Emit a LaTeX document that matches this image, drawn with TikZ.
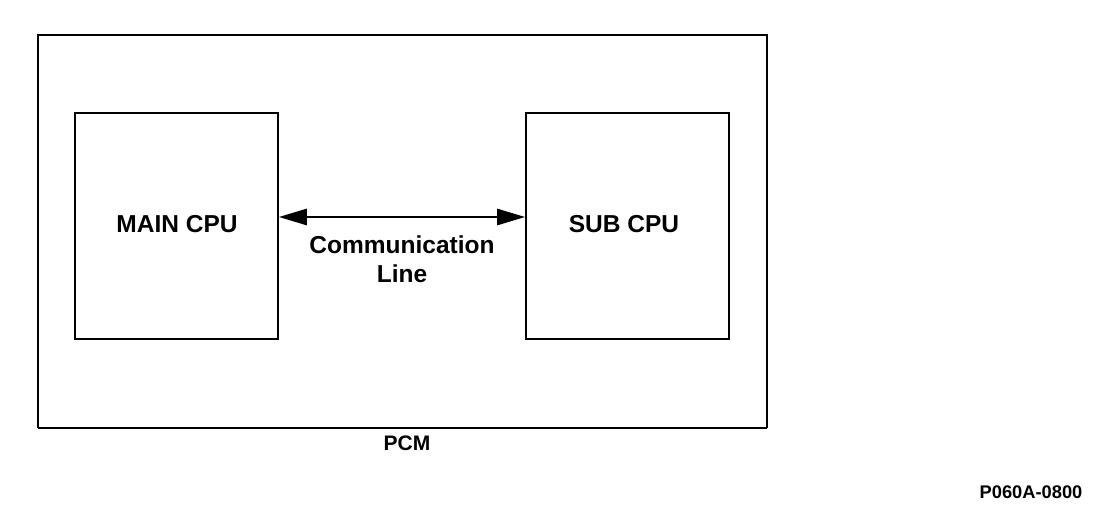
\documentclass[tikz,border=0pt]{standalone}
\usepackage{fontspec}
\setmainfont{Liberation Sans}
\usetikzlibrary{arrows.meta}
\begin{document}
\begin{tikzpicture}[x=1pt,y=-1pt,
  cpubox/.style={draw,line width=1.6pt,minimum width=203pt,minimum height=226pt,inner sep=0pt},
  lbl/.style={font=\fontsize{24.5}{29}\selectfont\bfseries,align=center}]
\useasboundingbox (0,0) rectangle (1120,514);
\draw[line width=1.6pt] (767,428) -- (767,35) -- (38,35) -- (38,428);
\draw[line width=2.6pt] (38,428) -- (767,428);
\node[cpubox] (main) at (176.5,226) {};
\node[cpubox] (sub) at (627.5,226) {};
\node[lbl] at (177,224) {MAIN CPU};
\node[lbl] at (624,224) {SUB CPU};
\draw[line width=2.6pt,{Triangle[length=28pt,width=16pt]}-{Triangle[length=28pt,width=16pt]}] ([yshift=9pt]main.east) -- ([yshift=9pt]sub.west);
\node[lbl] (comm) at (402,259) {Communication\\Line};
\node[lbl,font=\fontsize{21}{25}\selectfont\bfseries] (pcm) at (407,443) {PCM};
\node[font=\fontsize{18.3}{22}\selectfont\bfseries] (id) at (1031,492) {P060A-0800};
\end{tikzpicture}
\end{document}
